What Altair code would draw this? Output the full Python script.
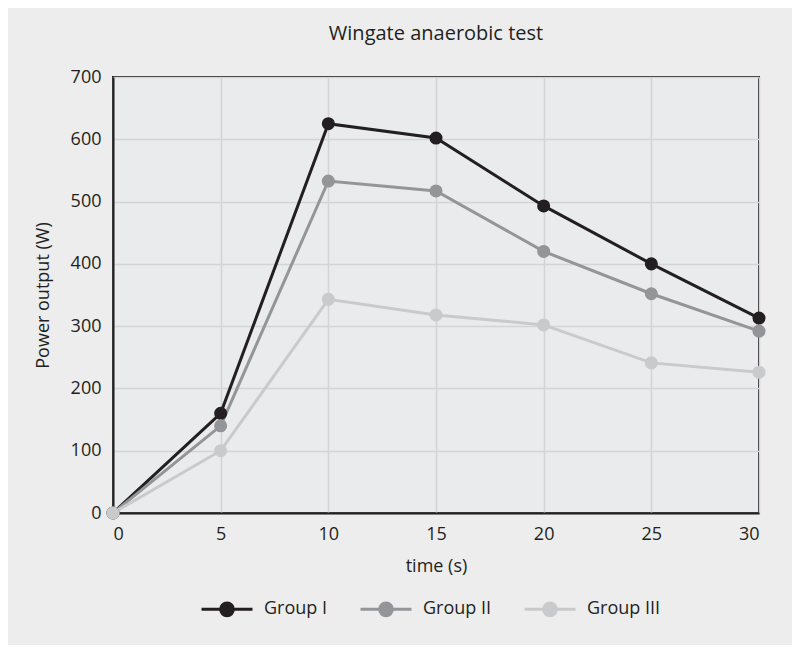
import altair as alt
import pandas as pd

time_s = [0, 5, 10, 15, 20, 25, 30]
group_i = [0, 160, 625, 602, 493, 400, 313]
group_ii = [0, 140, 533, 517, 420, 352, 292]
group_iii = [0, 100, 343, 318, 302, 241, 226]
groups = ["Group I", "Group II", "Group III"]
colors = ["#231f20", "#939598", "#c9cacc"]

rows = []
for g, vals in zip(groups, [group_i, group_ii, group_iii]):
    for t, v in zip(time_s, vals):
        rows.append({"time": t, "power": v, "group": g})
df = pd.DataFrame(rows)

FONT = "Open Sans"
sym = "M-1,0H1M-0.25,0A0.25,0.25,0,1,0,0.25,0A0.25,0.25,0,1,0,-0.25,0Z"

color = alt.Color(
    "group:N",
    scale=alt.Scale(domain=groups, range=colors),
    legend=alt.Legend(
        title=None,
        orient="none",
        direction="horizontal",
        legendX=87,
        legendY=505,
        symbolType=sym,
        symbolSize=2600,
        symbolStrokeWidth=3,
        labelFont=FONT,
        labelFontSize=18,
        labelColor="#231f20",
        columnPadding=26,
        labelOffset=10,
    ),
)

x = alt.X(
    "time:Q",
    title="time (s)",
    scale=alt.Scale(domain=[0, 30], nice=False),
    axis=alt.Axis(values=time_s, tickSize=0, labelPadding=12, titlePadding=14),
)
y = alt.Y(
    "power:Q",
    title="Power output (W)",
    scale=alt.Scale(domain=[0, 700], nice=False),
    axis=alt.Axis(values=[0, 100, 200, 300, 400, 500, 600, 700], tickSize=0,
                  labelPadding=12, titlePadding=18),
)

base = alt.Chart(df).encode(x=x, y=y, color=color, order=alt.Order("time:Q"))
lines = base.mark_line(strokeWidth=3)
points = base.mark_point(filled=True, size=170, opacity=1)

chart = (
    alt.layer(lines, points)
    .properties(
        width=646,
        height=436,
        title=alt.Title("Wingate anaerobic test", font=FONT, fontSize=20, fontWeight="normal",
                        color="#231f20", offset=24),
        background="#ededed",
        padding={"left": 105, "top": 69, "right": 33, "bottom": 132},
        autosize=alt.AutoSizeParams(type="none"),
    )
    .configure_view(fill="#eaebec", stroke="#231f20", strokeWidth=2)
    .configure_axis(
        labelFont=FONT,
        labelFontSize=18,
        labelColor="#231f20",
        titleFont=FONT,
        titleFontSize=18,
        titleFontWeight="normal",
        titleColor="#231f20",
        domainColor="#231f20",
        domainWidth=2,
        gridColor="#d2d4d6",
        gridWidth=1.5,
    )
)

chart.save("out.html", embed_options={"renderer": "svg", "actions": False})
